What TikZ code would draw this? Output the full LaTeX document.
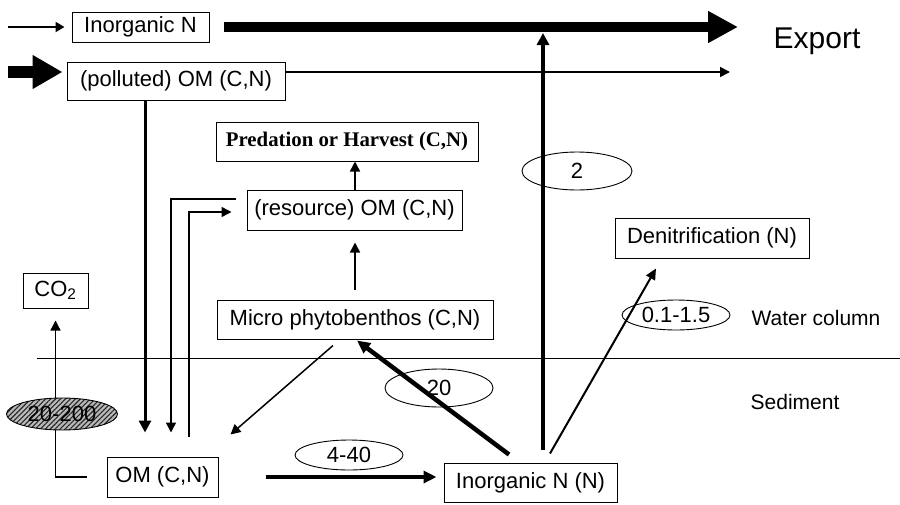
\documentclass[tikz,border=0pt]{standalone}
\usepackage{fontspec}
\setmainfont{Liberation Sans}
\newfontfamily\timesfont{Liberation Serif}
\usetikzlibrary{arrows.meta,shapes.geometric,patterns.meta}
\begin{document}
\begin{tikzpicture}[x=1pt,y=-1pt,
  box/.style={draw,line width=1pt,inner sep=0pt,font=\fontsize{22}{26}\selectfont},
  oval/.style={draw,ellipse,line width=0.9pt,inner sep=0pt,font=\fontsize{22}{26}\selectfont},
  lbl/.style={font=\fontsize{21}{25}\selectfont},
  arrS/.style={line width=1.5pt,-{Triangle[length=10pt,width=10pt]}},
  arrM/.style={line width=3pt,-{Triangle[length=12pt,width=12pt]}},
  arrT/.style={line width=4.5pt,-{Triangle[length=13pt,width=12pt]}},
  arrBig/.style={line width=10pt,-{Triangle[length=30pt,width=30pt]}},
  arrBigL/.style={line width=12pt,-{Triangle[length=30pt,width=32pt]}},
  plain/.style={line width=1.3pt}
]
\useasboundingbox[fill=white] (0,0) rectangle (900,504);

% boxes
\node[box,minimum width=137pt,minimum height=30pt] (inN) at (140.5,27) {Inorganic N};
\node[box,minimum width=218pt,minimum height=38pt] (polOM) at (176,81) {(polluted) OM (C,N)};
\node[box,minimum width=262pt,minimum height=39pt,font=\timesfont\bfseries\fontsize{20.8}{24}\selectfont] (pred) at (347,141.5) {Predation or Harvest (C,N)};
\node[box,minimum width=215pt,minimum height=40pt] (res) at (354.5,210) {(resource) OM (C,N)};
\node[box,minimum width=276pt,minimum height=39pt] (micro) at (355,319.5) {Micro phytobenthos (C,N)};
\node[box,minimum width=65pt,minimum height=35pt] (co2) at (55.5,290.5) {CO\textsubscript{2}};
\node[box,minimum width=111pt,minimum height=40pt] (om) at (162.5,477) {OM (C,N)};
\node[box,minimum width=173pt,minimum height=39pt] (inNN) at (530.5,482.5) {Inorganic N (N)};
\node[box,minimum width=194pt,minimum height=40pt] (denit) at (712,238) {Denitrification (N)};

% labels
\node[font=\fontsize{30}{34}\selectfont] (export) at (817,41) {Export};
\node[lbl] (water) at (816,318) {Water column};
\node[lbl] (sed) at (795,402) {Sediment};

% coordinates
\coordinate (src1) at (8,27);
\coordinate (src2) at (8,72);
\coordinate (exp1) at (738,27);
\coordinate (exp2) at (730,72);
\coordinate (xa) at (145,0);
\coordinate (xb) at (171,0);
\coordinate (xc) at (189,0);
\coordinate (xm) at (355,0);
\coordinate (topN) at (543,33);
\coordinate (wl1) at (37,358);
\coordinate (wl2) at (900,358);

% water line
\draw[line width=1pt] (wl1) -- (wl2);

% inputs and exports
\draw[line width=2pt,-{Triangle[length=9pt,width=10pt]},shorten >=7pt] (src1) -- (src1 -| inN.west);
\draw[arrBigL,shorten >=4pt] (src2) -- (src2 -| polOM.west);
\draw[arrBig,shorten <=14pt] (inN.east) -- (exp1);
\draw[arrS] (exp2 -| polOM.east) -- (exp2);

% vertical flows
\draw[arrM,shorten >=24pt] (polOM.south -| xa) -- (om.north -| xa);
\draw[arrS] ([shift={(-11,-11)}]res.west) -| ([yshift=24pt]om.north -| xb);
\draw[arrS] ([yshift=20pt]om.north -| xc) |- ([shift={(-15,2)}]res.west);
\draw[arrS] (res.north -| xm) -- (pred.south -| xm);
\draw[arrS,shorten <=10pt,shorten >=12pt] (micro.north -| xm) -- (res.south -| xm);

% CO2
\draw[plain,-{Triangle[length=10pt,width=10pt]}] ([xshift=-20pt]om.west) -| ([yshift=-12pt]co2.south);

% sediment flows
\draw[arrS] ([shift={(-22,6)}]micro.south) -- ([shift={(12,-22)}]om.north east);
\draw[arrT,shorten <=47pt,shorten >=7pt] (om.east) -- (om.east -| inNN.west);
\draw[arrT] ([shift={(-21.5,-8)}]inNN.north) -- ([shift={(2,1)}]micro.south);
\draw[line width=3.5pt,-{Triangle[length=12pt,width=12pt]}] ([shift={(12.5,-13)}]inNN.north) -- (topN);
\draw[line width=2pt,-{Triangle[length=11pt,width=10pt]}] ([shift={(19.5,-9)}]inNN.north) -- ([shift={(-56,10)}]denit.south);

% ovals
\node[oval,minimum width=110pt,minimum height=38pt] (e2) at (577,171) {2};
\node[oval,minimum width=108pt,minimum height=30pt] (e015) at (676,315) {0.1-1.5};
\node[oval,minimum width=108pt,minimum height=38pt] (e20) at (439,388) {20};
\node[oval,minimum width=108pt,minimum height=30pt] (e440) at (349,455) {4-40};
\node[oval,minimum width=111pt,minimum height=32pt,preaction={fill=gray!55},pattern={Lines[angle=45,distance=3.5pt,line width=1.1pt]},pattern color=black!85] (e200) at (62,414) {20-200};

\end{tikzpicture}
\end{document}
